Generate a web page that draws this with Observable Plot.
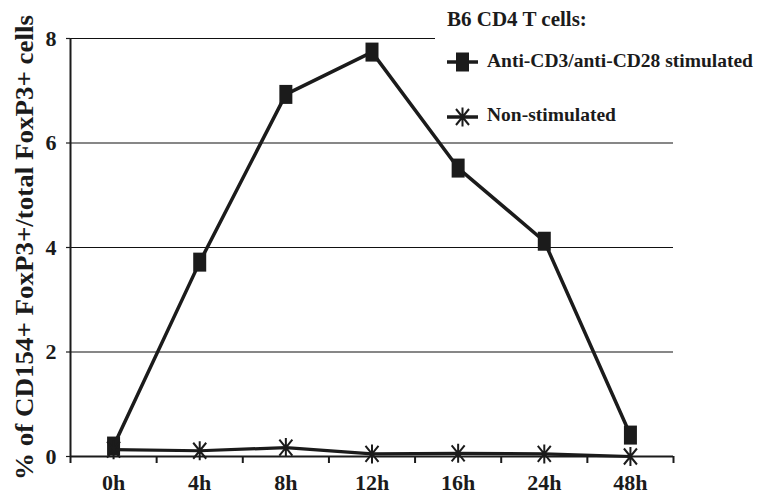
<!DOCTYPE html>
<html>
<head>
<meta charset="utf-8">
<script src="https://cdn.jsdelivr.net/npm/d3@7"></script>
<script src="https://cdn.jsdelivr.net/npm/@observablehq/plot@0.6"></script>
<style>
  html, body { margin: 0; padding: 0; background: white; }
  #wrap { position: relative; width: 762px; height: 498px; overflow: hidden; }
  #legend { position: absolute; left: 435px; top: 0; }
</style>
</head>
<body>
<div id="wrap"></div>
<script>
const categories = ["0h", "4h", "8h", "12h", "16h", "24h", "48h"];
const stimulated = [0.2, 3.72, 6.93, 7.74, 5.52, 4.12, 0.41];
const nonStimulated = [0.13, 0.11, 0.17, 0.05, 0.06, 0.05, 0.0];
const yTicks = [0, 2, 4, 6, 8];
const gridValues = [2, 4, 6, 8];
const legendTitle = "B6 CD4 T cells:";
const seriesNames = ["Anti-CD3/anti-CD28 stimulated", "Non-stimulated"];
const yLabel = "% of CD154+ FoxP3+/total FoxP3+ cells";

const ink = "#1b1b1b";
const font = "'Liberation Serif', 'Times New Roman', serif";

const stimData = categories.map((c, i) => ({i, v: stimulated[i]}));
const nonData = categories.map((c, i) => ({i, v: nonStimulated[i]}));
const boundaries = categories.map((c, i) => i - 0.5).concat([categories.length - 0.5]);
const centers = categories.map((c, i) => i);

const rectSymbol = {
  draw(ctx) {
    ctx.moveTo(-6.5, -9.5); ctx.lineTo(6.5, -9.5); ctx.lineTo(6.5, 9.5); ctx.lineTo(-6.5, 9.5); ctx.closePath();
  }
};
const starSymbol = {
  draw(ctx) {
    ctx.moveTo(0, -9.5); ctx.lineTo(0, 9.5);
    ctx.moveTo(-6.5, -8); ctx.lineTo(6.5, 8);
    ctx.moveTo(-6.5, 8); ctx.lineTo(6.5, -8);
  }
};

const chart = Plot.plot({
  width: 762,
  height: 498,
  marginLeft: 70,
  marginRight: 89,
  marginTop: 38,
  marginBottom: 42,
  style: {fontFamily: font, fontWeight: "bold", fontSize: "22px", color: ink, background: "white"},
  x: {type: "linear", domain: [-0.5, categories.length - 0.5], axis: null},
  y: {domain: [0, 8], axis: null},
  marks: [
    Plot.ruleY(gridValues, {stroke: "#111", strokeWidth: 1.1}),
    Plot.axisY({ticks: yTicks, tickSize: 4, tickPadding: 10, label: null, strokeWidth: 1.2, fontSize: 22}),
    Plot.axisX({ticks: boundaries, tickSize: 7, tickFormat: () => "", label: null, strokeWidth: 2}),
    Plot.axisX({ticks: centers, tickSize: 0, tickPadding: 17.5, tickFormat: (d) => categories[d], label: null, fontSize: 22}),
    Plot.ruleX([-0.5], {stroke: ink, strokeWidth: 2}),
    Plot.ruleY([0], {stroke: ink, strokeWidth: 2}),
    Plot.line(stimData, {x: "i", y: "v", stroke: ink, strokeWidth: 3.5}),
    Plot.dot(stimData, {x: "i", y: "v", symbol: rectSymbol, fill: ink, stroke: "none"}),
    Plot.line(nonData, {x: "i", y: "v", stroke: ink, strokeWidth: 3.2}),
    Plot.dot(nonData, {x: "i", y: "v", symbol: starSymbol, fill: "none", stroke: ink, strokeWidth: 2})
  ]
});

const wrap = document.getElementById("wrap");
wrap.appendChild(chart);

// y-axis title
d3.select(chart).append("text")
  .attr("transform", "translate(33, 247.5) rotate(-90)")
  .attr("text-anchor", "middle")
  .attr("font-family", font)
  .attr("font-weight", "bold")
  .attr("font-size", 26)
  .attr("fill", ink)
  .attr("textLength", 465)
  .attr("lengthAdjust", "spacingAndGlyphs")
  .text(yLabel);

// legend
const legend = d3.select(wrap).append("svg")
  .attr("id", "legend")
  .attr("width", 327)
  .attr("height", 132)
  .style("background", "white");

legend.append("text")
  .attr("x", 12).attr("y", 26)
  .attr("font-family", font).attr("font-weight", "bold").attr("font-size", 21)
  .attr("fill", ink)
  .text(legendTitle);

const legendRows = [62, 117];
const legendSymbols = [rectSymbol, starSymbol];
seriesNames.forEach((name, k) => {
  const g = legend.append("g").attr("transform", `translate(0, ${legendRows[k]})`);
  g.append("line").attr("x1", 12).attr("x2", 43).attr("y1", 0).attr("y2", 0)
    .attr("stroke", ink).attr("stroke-width", 3.5);
  g.append("path")
    .attr("transform", "translate(27.5, 0)")
    .attr("d", d3.symbol(legendSymbols[k])())
    .attr("fill", k === 0 ? ink : "none")
    .attr("stroke", k === 0 ? "none" : ink)
    .attr("stroke-width", 2);
  g.append("text")
    .attr("x", 52).attr("y", k === 0 ? 5 : 4)
    .attr("font-family", font).attr("font-weight", "bold").attr("font-size", 19.5)
    .attr("fill", ink)
    .text(name);
});
</script>
</body>
</html>
